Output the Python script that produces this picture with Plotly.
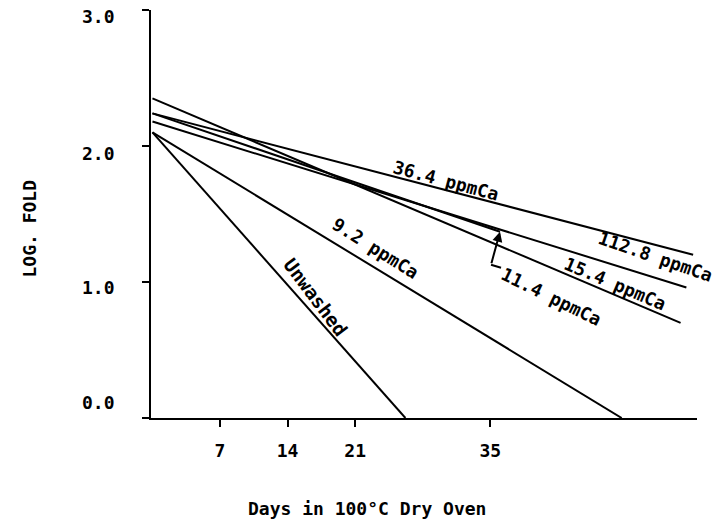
import plotly.graph_objects as go

# Log fold decline of each treatment over time in a 100 °C dry oven
series_names = ["15.4 ppmCa", "36.4 ppmCa", "11.4 ppmCa", "112.8 ppmCa", "9.2 ppmCa", "Unwashed"]
series_days = [
    [0, 54.7],   # 15.4 ppmCa
    [0, 56.0],   # 36.4 ppmCa
    [0, 36.0],   # 11.4 ppmCa
    [0, 55.3],   # 112.8 ppmCa
    [0, 48.6],   # 9.2 ppmCa
    [0, 26.2],   # Unwashed
]
series_logfold = [
    [2.35, 0.70],
    [2.24, 1.20],
    [2.24, 1.37],
    [2.18, 0.96],
    [2.10, 0.00],
    [2.10, 0.00],
]

x_ticks = [7, 14, 21, 35]
y_ticks = [0.0, 1.0, 2.0, 3.0]
y_tick_text = ["0.0", "1.0", "2.0", "3.0"]

FONT = "DejaVu Sans Mono"

fig = go.Figure()
for name, days, vals in zip(series_names, series_days, series_logfold):
    fig.add_trace(go.Scatter(x=days, y=vals, mode="lines", name=name,
                             line=dict(color="black", width=2), showlegend=False))

# In-chart labels written along each line
label_style = [
    # (text, day, log fold, angle, size)
    ("36.4 ppmCa", 30.4, 1.75, 15, 18),
    ("112.8 ppmCa", 52.1, 1.19, 19, 18),
    ("15.4 ppmCa", 47.9, 0.99, 23, 18),
    ("11.4 ppmCa", 41.3, 0.89, 26, 18),
    ("9.2 ppmCa", 23.2, 1.25, 32, 18),
    ("Unwashed", 16.9, 0.89, 53, 19),
]
for text, xd, yd, ang, size in label_style:
    fig.add_annotation(x=xd, y=yd, text=text, showarrow=False, textangle=ang,
                       font=dict(family=FONT, size=size, color="black", weight="bold"))

# Pointer marking the end of the 11.4 ppmCa line
i114 = series_names.index("11.4 ppmCa")
end_x, end_y = series_days[i114][-1], series_logfold[i114][-1]
fig.add_annotation(x=end_x, y=end_y, text="", showarrow=True, ax=-9, ay=33,
                   arrowhead=2, arrowsize=1, arrowwidth=2, arrowcolor="black")
fig.add_shape(type="line", xref="x", yref="y",
              xsizemode="pixel", ysizemode="pixel", xanchor=end_x, yanchor=end_y,
              x0=-9, y0=-33, x1=1, y1=-36, line=dict(color="black", width=2))

# Y tick labels, set a little off their ticks
y_label_shift = [16, -5, -7, -6]
for v, t, s in zip(y_ticks, y_tick_text, y_label_shift):
    fig.add_annotation(x=0, xref="paper", y=v, yref="y", text=t, showarrow=False,
                       xanchor="right", xshift=-34, yshift=s,
                       font=dict(family=FONT, size=18, color="black", weight="bold"))

fig.add_annotation(x=0.3947, y=-0.2525, xref="paper", yref="paper",
                   text="Days in 100°C Dry Oven", showarrow=False,
                   font=dict(family=FONT, size=18, color="black", weight="bold"))
fig.add_annotation(x=-0.2463, y=0.4645, xref="paper", yref="paper",
                   text="LOG. FOLD", showarrow=False, textangle=-90,
                   font=dict(family=FONT, size=18, color="black", weight="bold"))

fig.update_xaxes(range=[-0.15, 56.4], tickvals=x_ticks, ticks="outside", ticklen=7,
                 tickwidth=2, tickcolor="black", showline=True, linewidth=2,
                 linecolor="black", showgrid=False, zeroline=False,
                 ticklabelstandoff=8,
                 tickfont=dict(family=FONT, size=18, color="black", weight="bold"))
fig.update_yaxes(range=[0, 3], tickvals=y_ticks, ticks="outside", ticklen=7,
                 tickwidth=2, tickcolor="black", showline=True, linewidth=2,
                 linecolor="black", showgrid=False, zeroline=False,
                 showticklabels=False)

fig.update_layout(width=715, height=529, margin=dict(l=151, r=18, t=10, b=111),
                  plot_bgcolor="white", paper_bgcolor="white")

fig.write_html("out.html")
